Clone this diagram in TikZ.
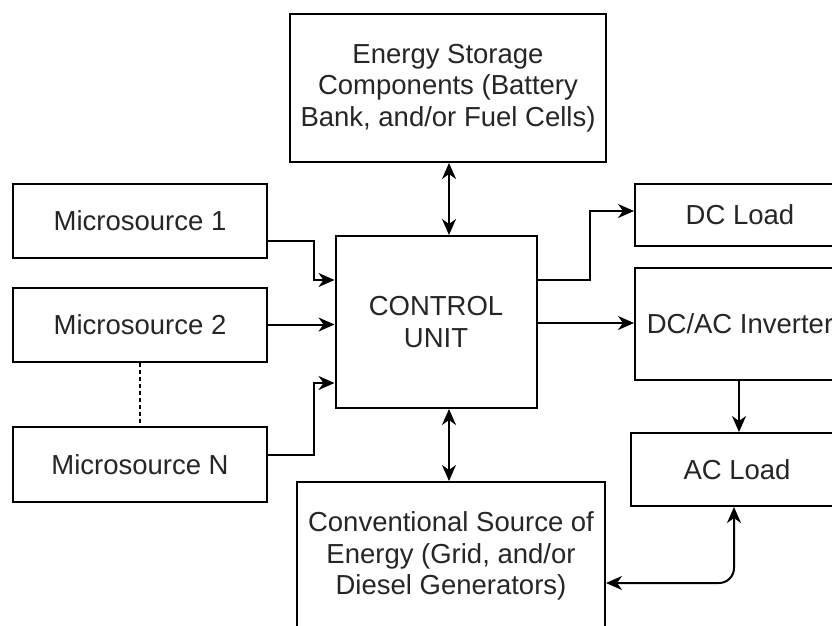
\documentclass[tikz,border=0pt]{standalone}
\usepackage{fontspec}
\setmainfont{Liberation Sans}
\usetikzlibrary{arrows.meta}
\definecolor{txt}{HTML}{262626}
\tikzset{
  box/.style={draw=black, line width=2pt, fill=white, inner sep=0pt, align=center,
    text=txt, font=\fontsize{27.5}{31.5}\selectfont},
  conn/.style={line width=2pt, draw=black},
  tip/.style={},
  arr/.style={conn, -{Stealth[length=16pt,width=14pt,inset=5pt]}},
  biarr/.style={conn, {Stealth[length=16pt,width=14pt,inset=5pt]}-{Stealth[length=16pt,width=14pt,inset=5pt]}},
}
\begin{document}
\begin{tikzpicture}[x=1pt,y=-1pt]
\useasboundingbox (0,0) rectangle (832,625);
\clip (0,0) rectangle (832,625);
\node[box, minimum width=316pt, minimum height=148pt] (es) at (448,88)
  {Energy Storage\\Components (Battery\\Bank, and/or Fuel Cells)};
\node[box, minimum width=254pt, minimum height=74pt] (ms1) at (140,221) {Microsource 1};
\node[box, minimum width=254pt, minimum height=74pt] (ms2) at (140,324.5) {Microsource 2};
\node[box, minimum width=254pt, minimum height=75pt] (msn) at (140,464.5) {Microsource N};
\node[box, minimum width=201pt, minimum height=172pt] (cu) at (436,322) {CONTROL\\UNIT};
\node[box, minimum width=210pt, minimum height=62pt] (dc) at (740,215) {DC Load};
\node[box, minimum width=210pt, minimum height=112pt] (inv) at (740,324) {DC/AC Inverter};
\node[box, minimum width=212pt, minimum height=73pt] (ac) at (737,469.5) {AC Load};
\node[box, minimum width=308pt, minimum height=148pt] (conv) at (451,556)
  {Conventional Source of\\Energy (Grid, and/or\\Diesel Generators)};

\draw[arr] ([yshift=-20pt]ms1.east) -- ++(46,0) |- ([yshift=42pt]cu.west);
\draw[arr] (ms2.east) -- (ms2.east -| cu.west);
\draw[arr] ([yshift=9.5pt]msn.east) -- ++(46,0) |- ([yshift=-61pt]cu.west);
\draw[conn, dash pattern=on 4pt off 3pt] (ms2.south) -- (msn.north);

\draw[biarr] ([xshift=1pt]es.south) -- ([xshift=1pt]es.south |- cu.north);
\draw[biarr] ([xshift=-2pt]conv.north |- cu.south) -- ([xshift=-2pt]conv.north);

\draw[arr] ([yshift=42pt]cu.east) -- ++(52,0) |- ([yshift=4pt]dc.west);
\draw[arr] ([yshift=-1pt]cu.east) -- ([yshift=-1pt]cu.east -| inv.west);
\draw[arr] ([xshift=-1pt]inv.south) -- ([xshift=-1pt]inv.south |- ac.north);
\draw[biarr, rounded corners=15pt] ([xshift=-3pt]ac.south) |- ([yshift=-27pt]conv.east);
\end{tikzpicture}
\end{document}
